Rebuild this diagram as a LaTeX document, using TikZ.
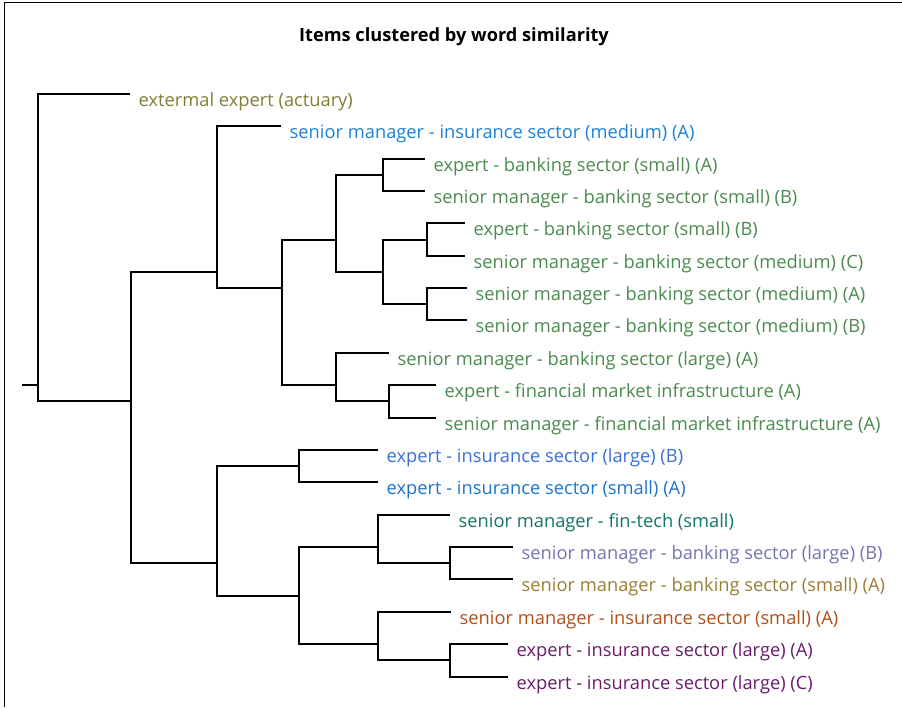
\documentclass[tikz,border=0pt]{standalone}
\usepackage{fontspec}
\setmainfont{Open Sans}
\definecolor{cOlive}{HTML}{807F35}
\definecolor{cBlueM}{HTML}{1E7FD6}
\definecolor{cGreen}{HTML}{4B8B4F}
\definecolor{cBlueL}{HTML}{3B6FD4}
\definecolor{cBlueS}{HTML}{1E74C8}
\definecolor{cTeal}{HTML}{127466}
\definecolor{cSlate}{HTML}{7474B0}
\definecolor{cBrown}{HTML}{9B7D35}
\definecolor{cOrange}{HTML}{B0501A}
\definecolor{cPurple}{HTML}{6B1B6E}
\tikzset{
  branch/.style={line width=1.3pt, black},
  leaf/.style={anchor=base west, inner sep=0pt, xshift=8.5pt, yshift=-12pt, font=\fontsize{18.3}{22}\selectfont},
  frameline/.style={line width=1.6pt, black}
}
\begin{document}
\begin{tikzpicture}[x=1pt,y=-1pt]
\useasboundingbox (0,0) rectangle (902,707);
\draw[frameline] (4.5,707) -- (4.5,2.5) -- (902,2.5);
\node[font=\bfseries\fontsize{18.2}{22}\selectfont, anchor=base, inner sep=0pt] (title) at (454,41) {Items clustered by word similarity};
% internal nodes
\coordinate (stub) at (22,385);
\coordinate (root) at (38,385);
\coordinate (B) at (131,401);
\coordinate (C) at (217,272);
\coordinate (D) at (282,288);
\coordinate (E) at (336,240);
\coordinate (F) at (383,175);
\coordinate (G) at (383,272);
\coordinate (H) at (427,240);
\coordinate (I) at (427,304);
\coordinate (J) at (336,385);
\coordinate (K) at (389,401);
\coordinate (L) at (217,563);
\coordinate (M) at (299,466);
\coordinate (N) at (299,596);
\coordinate (O) at (378,547);
\coordinate (P) at (450,563);
\coordinate (Q) at (378,644);
\coordinate (R) at (450,660);
% leaf ends
\coordinate (a1) at (130,94);
\coordinate (a2) at (281,126);
\coordinate (a3) at (425,159);
\coordinate (a4) at (425,191);
\coordinate (a5) at (465,223);
\coordinate (a6) at (465,256);
\coordinate (a7) at (467,288);
\coordinate (a8) at (467,320);
\coordinate (a9) at (389,353);
\coordinate (a10) at (436,385);
\coordinate (a11) at (436,418);
\coordinate (a12) at (378,450);
\coordinate (a13) at (378,482);
\coordinate (a14) at (450,515);
\coordinate (a15) at (513,547);
\coordinate (a16) at (513,579);
\coordinate (a17) at (451,612);
\coordinate (a18) at (508,644);
\coordinate (a19) at (508,677);
% labels
\node[leaf, text=cOlive] (l1) at (a1) {extermal expert (actuary)};
\node[leaf, text=cBlueM] (l2) at (a2) {senior manager - insurance sector (medium) (A)};
\node[leaf, text=cGreen] (l3) at (a3) {expert - banking sector (small) (A)};
\node[leaf, text=cGreen] (l4) at (a4) {senior manager - banking sector (small) (B)};
\node[leaf, text=cGreen] (l5) at (a5) {expert - banking sector (small) (B)};
\node[leaf, text=cGreen] (l6) at (a6) {senior manager - banking sector (medium) (C)};
\node[leaf, text=cGreen] (l7) at (a7) {senior manager - banking sector (medium) (A)};
\node[leaf, text=cGreen] (l8) at (a8) {senior manager - banking sector (medium) (B)};
\node[leaf, text=cGreen] (l9) at (a9) {senior manager - banking sector (large) (A)};
\node[leaf, text=cGreen] (l10) at (a10) {expert - financial market infrastructure (A)};
\node[leaf, text=cGreen] (l11) at (a11) {senior manager - financial market infrastructure (A)};
\node[leaf, text=cBlueL] (l12) at (a12) {expert - insurance sector (large) (B)};
\node[leaf, text=cBlueS] (l13) at (a13) {expert - insurance sector (small) (A)};
\node[leaf, text=cTeal] (l14) at (a14) {senior manager - fin-tech (small)};
\node[leaf, text=cSlate] (l15) at (a15) {senior manager - banking sector (large) (B)};
\node[leaf, text=cBrown] (l16) at (a16) {senior manager - banking sector (small) (A)};
\node[leaf, text=cOrange] (l17) at (a17) {senior manager - insurance sector (small) (A)};
\node[leaf, text=cPurple] (l18) at (a18) {expert - insurance sector (large) (A)};
\node[leaf, text=cPurple] (l19) at (a19) {expert - insurance sector (large) (C)};
% branches
\draw[branch] (stub) -- (root);
\draw[branch] (a1) -| (root) |- (B);
\draw[branch] (C) -| (B) |- (L);
\draw[branch] (a2) -| (C) |- (D);
\draw[branch] (E) -| (D) |- (J);
\draw[branch] (F) -| (E) |- (G);
\draw[branch] (a3) -| (F) |- (a4);
\draw[branch] (H) -| (G) |- (I);
\draw[branch] (a5) -| (H) |- (a6);
\draw[branch] (a7) -| (I) |- (a8);
\draw[branch] (a9) -| (J) |- (K);
\draw[branch] (a10) -| (K) |- (a11);
\draw[branch] (M) -| (L) |- (N);
\draw[branch] (a12) -| (M) |- (a13);
\draw[branch] (O) -| (N) |- (Q);
\draw[branch] (a14) -| (O) |- (P);
\draw[branch] (a15) -| (P) |- (a16);
\draw[branch] (a17) -| (Q) |- (R);
\draw[branch] (a18) -| (R) |- (a19);
\end{tikzpicture}
\end{document}
